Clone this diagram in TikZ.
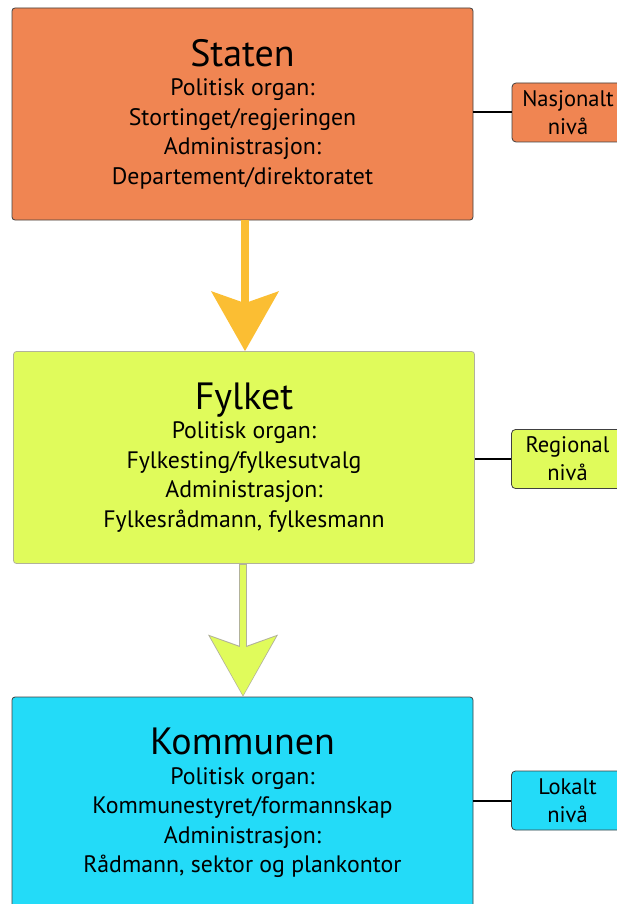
\documentclass[tikz,border=0pt]{standalone}
\usepackage{fontspec}
\setmainfont{PT Sans}
\usetikzlibrary{arrows.meta}

\definecolor{statfill}{HTML}{F08552}
\definecolor{fylkfill}{HTML}{E0FB5B}
\definecolor{kommfill}{HTML}{23DBF8}
\definecolor{arrowgold}{HTML}{FBBE33}
\definecolor{edgegray}{HTML}{B2B29A}

\newcommand{\titlesize}{\fontsize{38}{38}\selectfont}

\begin{document}
\begin{tikzpicture}[x=1pt, y=1pt,
    levelbox/.style={rectangle, rounded corners=3pt, draw=black!75, line width=0.8pt,
      minimum width=461pt, minimum height=212pt, inner sep=0pt,
      align=center, font=\fontsize{23.8}{29.5}\selectfont},
    sidebox/.style={rectangle, rounded corners=4pt, draw=black!75, line width=0.8pt,
      minimum width=112pt, minimum height=59pt, inner sep=0pt,
      align=center, font=\fontsize{22.5}{28}\selectfont},
    link/.style={line width=2pt, black}]
  \useasboundingbox (0,0) rectangle (617,-904);
  % ---------------------------------------------------------------- the three levels
  \node[levelbox, fill=statfill] (staten) at (242.5,-114) {{\titlesize Staten}\\Politisk organ:\\Stortinget/regjeringen\\Administrasjon:\\Departement/direktoratet};
  \node[levelbox, fill=fylkfill, draw=edgegray] (fylket) at (244,-457.5) {{\titlesize Fylket}\\Politisk organ:\\Fylkesting/fylkesutvalg\\Administrasjon:\\Fylkesrådmann, fylkesmann};
  \node[levelbox, fill=kommfill] (kommunen) at (242.5,-803) {{\titlesize Kommunen}\\Politisk organ:\\Kommunestyret/formannskap\\Administrasjon:\\Rådmann, sektor og plankontor};
  % ---------------------------------------------------------------- the level tags on the right
  \node[sidebox, fill=statfill] (nasjonalt) at (568,-112.5) {Nasjonalt\\nivå};
  \node[sidebox, fill=fylkfill] (regional) at (567.5,-459) {Regional\\nivå};
  \node[sidebox, fill=kommfill] (lokalt) at (567.5,-800.5) {Lokalt\\nivå};
  \draw[link] (nasjonalt.west -| staten.east) -- (nasjonalt.west);
  \draw[link] (regional.west -| fylket.east) -- (regional.west);
  \draw[link] (lokalt.west -| kommunen.east) -- (lokalt.west);
  % ---------------------------------------------------------------- the fat arrows between the levels
  \draw[arrowgold, line width=8pt, -{Stealth[length=60pt, width=68pt, inset=12pt, line width=0pt]}]
    ([xshift=2.5pt]staten.south) -- ([xshift=2.5pt]staten.south |- fylket.north);
  % the lower arrow has a thin grey rim: a grey one under a lime one
  \draw[edgegray, line width=7.6pt, -{Stealth[length=62pt, width=70pt, inset=12.5pt, line width=0pt]}]
    ([xshift=-1pt]fylket.south) -- ([xshift=-1pt]fylket.south |- kommunen.north);
  \draw[fylkfill, line width=5.6pt, shorten >=1.3pt, -{Stealth[length=59pt, width=66pt, inset=12pt, line width=0pt]}]
    ([xshift=-1pt,yshift=-0.8pt]fylket.south) -- ([xshift=-1pt]fylket.south |- kommunen.north);
\end{tikzpicture}
\end{document}
